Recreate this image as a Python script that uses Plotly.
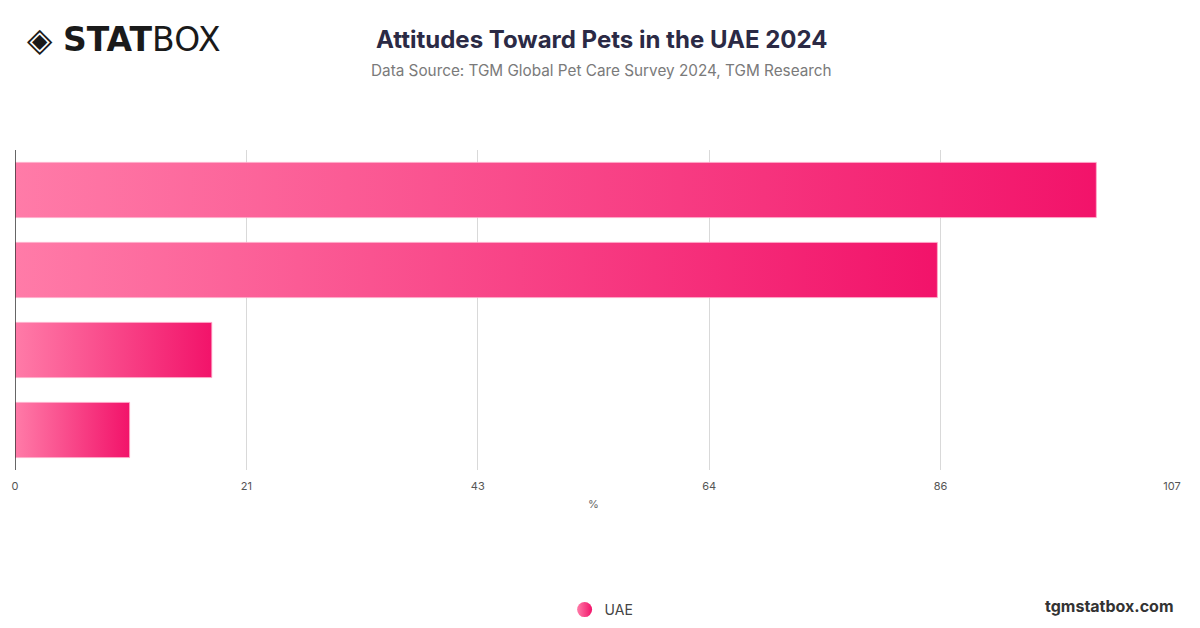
import plotly.graph_objects as go

# values (%), top to bottom
items = ["Item 1", "Item 2", "Item 3", "Item 4"]
uae_values = [100.0, 85.3, 18.2, 10.6]

x_max = 107
tick_vals = [0, 21.4, 42.8, 64.2, 85.6, 107]
tick_text = ["0", "21", "43", "64", "86", "107"]

BAR_HALF = 0.345
PINK_SCALE = [[0, "#ff7ba8"], [1, "#f2136a"]]

fig = go.Figure()

# each bar is a filled rectangle so it can carry a left-to-right gradient
for i, (name, val) in enumerate(zip(items, uae_values)):
    fig.add_trace(
        go.Scatter(
            x=[0, val, val, 0, 0],
            y=[i - BAR_HALF, i - BAR_HALF, i + BAR_HALF, i + BAR_HALF, i - BAR_HALF],
            mode="lines",
            line=dict(width=1, color="rgba(255,170,200,0.8)"),
            fill="toself",
            fillgradient=dict(type="horizontal", colorscale=PINK_SCALE),
            hoveron="fills",
            name=name,
            text=f"{name}: {val}%",
            hoverinfo="text",
            showlegend=False,
        )
    )

# legend entry
fig.add_trace(
    go.Scatter(
        x=[None],
        y=[None],
        mode="markers",
        name="UAE",
        marker=dict(
            symbol="circle",
            size=15,
            color="#ff7ba8",
            gradient=dict(type="horizontal", color="#f2136a"),
            line=dict(width=0),
        ),
    )
)

# the page adds an 8px body margin, so margins are trimmed to compensate
fig.update_layout(
    width=1200,
    height=628,
    paper_bgcolor="white",
    plot_bgcolor="white",
    margin=dict(l=4, r=36, t=142, b=166),
    font=dict(family="Inter, Roboto, sans-serif", color="#555555"),
    xaxis=dict(
        range=[0, x_max],
        tickvals=tick_vals,
        ticktext=tick_text,
        showgrid=True,
        gridcolor="#d9d9d9",
        gridwidth=1,
        zeroline=False,
        showline=False,
        ticks="",
        ticklabelstandoff=8,
        tickfont=dict(size=11, color="#555555"),
        title=dict(text="%", font=dict(size=11, color="#666666"), standoff=8),
        fixedrange=True,
    ),
    yaxis=dict(
        range=[3.5, -0.5],
        showticklabels=False,
        showgrid=False,
        zeroline=False,
        showline=False,
        fixedrange=True,
    ),
    legend=dict(
        orientation="h",
        x=0.507,
        xanchor="center",
        y=-0.4375,
        yanchor="middle",
        font=dict(size=14, color="#444444"),
    ),
    showlegend=True,
)

# dark left axis line at x = 0
fig.add_shape(
    type="line",
    xref="x",
    yref="paper",
    x0=0,
    x1=0,
    y0=0,
    y1=1,
    line=dict(color="#333333", width=1.5),
)

# title and subtitle
fig.add_annotation(
    text="<b>Attitudes Toward Pets in the UAE 2024</b>",
    xref="paper",
    yref="paper",
    x=0.5,
    y=1.344,
    xanchor="center",
    yanchor="middle",
    showarrow=False,
    font=dict(size=24, color="#2b2a45", family="Inter, Roboto, sans-serif"),
    xshift=8,
)
fig.add_annotation(
    text="Data Source: TGM Global Pet Care Survey 2024, TGM Research",
    xref="paper",
    yref="paper",
    x=0.5,
    y=1.247,
    xanchor="center",
    yanchor="middle",
    showarrow=False,
    font=dict(size=15.3, color="#7a7a7a", family="Inter, Roboto, sans-serif"),
    xshift=8,
)

# brand logo and site name
fig.add_annotation(
    text="◈ <b>STAT</b>BOX",
    xref="paper",
    yref="paper",
    x=0,
    y=1.344,
    xanchor="left",
    yanchor="middle",
    showarrow=False,
    font=dict(size=33, color="#1a1a1a", family="DejaVu Sans, sans-serif"),
    xshift=10,
)
fig.add_annotation(
    text="<b>tgmstatbox.com</b>",
    xref="paper",
    yref="paper",
    x=1.0,
    y=-0.425,
    xanchor="right",
    yanchor="middle",
    showarrow=False,
    font=dict(size=16, color="#333333"),
    xshift=4,
)

fig.write_html("out.html")
